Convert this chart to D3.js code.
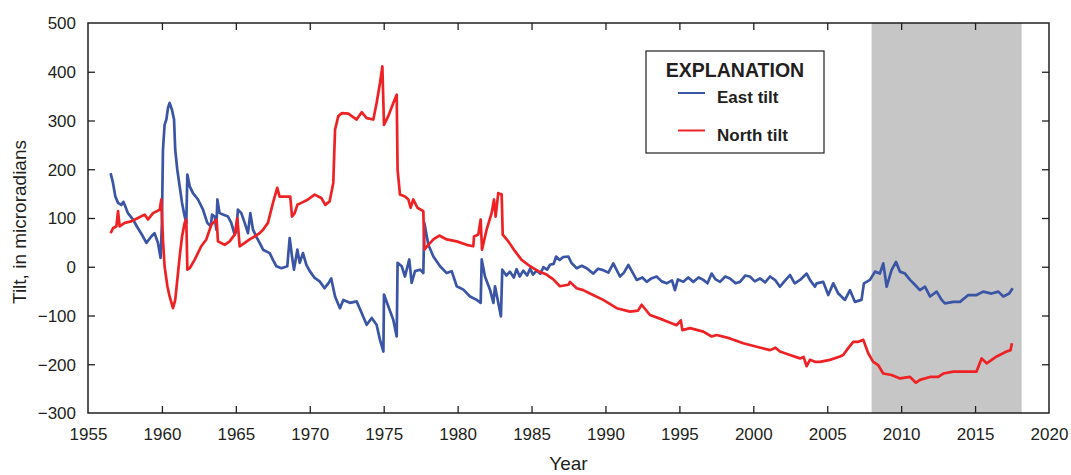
<!DOCTYPE html>
<html>
<head>
<meta charset="utf-8">
<script src="https://cdn.jsdelivr.net/npm/d3@7"></script>
<style>
  html, body { margin: 0; padding: 0; background: #fff; }
  svg { display: block; font-family: "Liberation Sans", Arial, sans-serif; }
</style>
</head>
<body>
<svg id="chart" width="1071" height="475"></svg>
<script>
// Tilt records, microradians, by decimal year
const eastTilt = [
  [1956.53,192],[1956.69,172],[1956.85,144],[1957.03,131],[1957.25,127],[1957.4,133],[1957.48,127],
  [1957.7,110],[1958.04,97],[1958.38,79],[1958.72,62],[1958.95,49],[1959.28,62],[1959.5,69],
  [1959.73,49],[1959.91,18],[1960.0,90],[1960.07,240],[1960.18,291],[1960.3,302],[1960.41,326],
  [1960.52,336],[1960.68,322],[1960.82,302],[1960.9,240],[1961.04,199],[1961.2,165],[1961.36,131],
  [1961.54,103],[1961.65,90],[1961.72,189],[1961.88,165],[1962.1,151],[1962.44,138],[1962.78,117],
  [1963.07,90],[1963.3,83],[1963.39,107],[1963.57,103],[1963.68,76],[1963.75,138],[1963.9,110],
  [1964.13,107],[1964.47,103],[1964.69,90],[1964.92,66],[1965.03,73],[1965.14,117],[1965.37,110],
  [1965.6,90],[1965.82,69],[1965.98,110],[1966.16,76],[1966.38,62],[1966.61,49],[1966.84,35],
  [1967.29,28],[1967.51,14],[1967.74,1],[1968.08,-3],[1968.48,1],[1968.64,59],[1968.8,21],
  [1968.93,-6],[1969.16,35],[1969.32,8],[1969.54,28],[1969.77,4],[1970.0,-9],[1970.33,-23],
  [1970.67,-30],[1971.0,-44],[1971.28,-33],[1971.45,-24],[1971.71,-61],[1972.04,-85],[1972.27,-68],
  [1972.72,-74],[1973.17,-71],[1973.51,-95],[1973.85,-119],[1974.19,-105],[1974.52,-119],
  [1974.75,-150],[1974.98,-174],[1975.02,-57],[1975.31,-81],[1975.65,-109],[1975.88,-143],
  [1975.94,8],[1976.22,1],[1976.44,-20],[1976.73,15],[1976.89,-33],[1977.12,-9],[1977.46,-6],
  [1977.68,-13],[1977.75,90],[1978.02,45],[1978.36,21],[1978.81,1],[1979.26,-13],[1979.6,-9],
  [1979.94,-40],[1980.39,-47],[1980.84,-61],[1981.29,-68],[1981.56,-74],[1981.63,15],[1981.85,-20],
  [1982.19,-47],[1982.42,-74],[1982.53,-40],[1982.75,-74],[1982.93,-102],[1983.02,-6],[1983.3,-18],
  [1983.54,-10],[1983.8,-22],[1983.99,-5],[1984.2,-20],[1984.44,-8],[1984.7,-18],[1984.9,-4],
  [1985.1,-16],[1985.35,-8],[1985.6,-14],[1985.8,-1],[1986.05,-6],[1986.25,4],[1986.5,6],
  [1986.66,21],[1986.9,14],[1987.15,20],[1987.49,21],[1987.7,8],[1988.05,-3],[1988.4,2],
  [1988.73,-3],[1989.18,-14],[1989.5,-4],[1989.85,-7],[1990.2,-12],[1990.53,7],[1990.98,-20],
  [1991.25,-12],[1991.55,4],[1992.11,-27],[1992.5,-22],[1992.79,-31],[1993.1,-24],[1993.46,-20],
  [1993.8,-30],[1994.14,-34],[1994.5,-28],[1994.7,-48],[1994.9,-26],[1995.27,-31],[1995.6,-22],
  [1995.94,-31],[1996.3,-22],[1996.62,-27],[1996.9,-34],[1997.18,-14],[1997.45,-26],[1997.75,-31],
  [1998.1,-20],[1998.42,-24],[1998.8,-34],[1999.1,-31],[1999.45,-18],[1999.77,-20],[2000.1,-30],
  [2000.45,-24],[2000.8,-32],[2001.13,-20],[2001.5,-28],[2001.8,-41],[2002.1,-30],[2002.48,-17],
  [2002.8,-34],[2003.16,-27],[2003.61,-14],[2003.83,-27],[2004.17,-41],[2004.28,-34],[2004.73,-31],
  [2005.07,-58],[2005.41,-34],[2005.75,-55],[2006.2,-68],[2006.54,-48],[2006.87,-72],[2007.32,-68],
  [2007.48,-34],[2007.89,-27],[2008.23,-10],[2008.56,-14],[2008.79,7],[2009.02,-41],[2009.35,-7],
  [2009.65,10],[2009.92,-10],[2010.26,-14],[2010.6,-27],[2010.93,-37],[2011.27,-48],[2011.61,-41],
  [2011.95,-61],[2012.4,-51],[2012.74,-68],[2012.96,-75],[2013.52,-72],[2013.98,-72],[2014.54,-58],
  [2015.1,-58],[2015.55,-51],[2016.12,-55],[2016.57,-51],[2016.91,-61],[2017.31,-55],[2017.54,-44]
];

const northTilt = [
  [1956.53,69],[1956.69,79],[1956.92,83],[1957.03,114],[1957.14,83],[1957.48,90],[1957.93,93],
  [1958.38,100],[1958.83,107],[1959.06,97],[1959.4,110],[1959.85,117],[1959.96,138],[1960.07,56],
  [1960.18,1],[1960.37,-40],[1960.52,-61],[1960.75,-85],[1960.9,-68],[1961.04,-27],[1961.2,21],
  [1961.36,62],[1961.54,90],[1961.65,97],[1961.72,-6],[1961.88,-3],[1962.21,14],[1962.66,42],
  [1963.0,56],[1963.34,86],[1963.57,93],[1963.7,97],[1963.79,52],[1964.24,45],[1964.58,52],
  [1964.92,66],[1965.1,100],[1965.26,42],[1965.6,49],[1965.93,56],[1966.27,62],[1966.61,69],
  [1966.84,76],[1967.17,90],[1967.51,131],[1967.8,162],[1967.96,144],[1968.53,144],[1968.68,144],
  [1968.8,103],[1968.98,110],[1969.16,127],[1969.43,131],[1969.88,138],[1970.33,148],[1970.78,141],
  [1971.05,127],[1971.34,134],[1971.5,158],[1971.59,172],[1971.71,281],[1971.93,309],[1972.16,315],
  [1972.61,314],[1973.17,302],[1973.51,317],[1973.85,305],[1974.3,302],[1974.52,336],[1974.75,377],
  [1974.91,411],[1975.02,291],[1975.31,309],[1975.65,336],[1975.88,353],[1975.94,199],[1976.1,148],
  [1976.44,144],[1976.67,138],[1976.82,121],[1977.0,138],[1977.28,121],[1977.68,114],[1977.75,35],
  [1978.02,45],[1978.36,56],[1978.76,64],[1979.26,56],[1979.94,52],[1980.61,45],[1981.06,42],
  [1981.11,62],[1981.4,66],[1981.56,97],[1981.65,35],[1981.96,76],[1982.3,110],[1982.46,138],
  [1982.57,103],[1982.75,151],[1982.98,148],[1983.05,66],[1983.43,52],[1983.88,32],[1984.33,14],
  [1984.9,1],[1985.46,-9],[1986.02,-16],[1986.47,-26],[1986.92,-40],[1987.49,-37],[1987.6,-31],
  [1988.05,-44],[1988.5,-48],[1988.95,-55],[1989.85,-68],[1990.76,-85],[1991.66,-92],[1992.2,-90],
  [1992.45,-78],[1993.01,-99],[1993.91,-109],[1994.81,-120],[1995.1,-110],[1995.2,-130],[1995.72,-126],
  [1996.62,-133],[1997.18,-143],[1997.52,-140],[1998.42,-147],[1999.32,-157],[2000.23,-164],
  [2001.13,-171],[2001.5,-166],[2001.8,-174],[2002.48,-181],[2003.16,-188],[2003.4,-185],
  [2003.61,-204],[2003.83,-191],[2004.17,-195],[2004.51,-195],[2005.18,-191],[2005.86,-184],
  [2006.08,-181],[2006.42,-167],[2006.76,-154],[2007.1,-154],[2007.44,-150],[2007.78,-178],
  [2008.11,-195],[2008.45,-202],[2008.79,-219],[2009.35,-222],[2009.92,-229],[2010.6,-226],
  [2011.0,-238],[2011.27,-232],[2011.95,-226],[2012.51,-226],[2012.85,-219],[2013.52,-215],
  [2014.43,-215],[2015.1,-215],[2015.44,-188],[2015.78,-198],[2016.46,-184],[2017.13,-174],
  [2017.4,-171],[2017.49,-157]
];

const yearTicks = [1955,1960,1965,1970,1975,1980,1985,1990,1995,2000,2005,2010,2015,2020];
const tiltTicks = [-300,-200,-100,0,100,200,300,400,500];
const shadedSpan = [2008, 2018.15];
const legendItems = [
  { label: "East tilt", key: "east" },
  { label: "North tilt", key: "north" }
];

const colors = { east: "#3a55a5", north: "#ee2225" };
const ink = "#231f20";

const svg = d3.select("#chart");
const plotLeft = 88, plotRight = 1049, plotTop = 23, plotBottom = 413;

const x = d3.scaleLinear().domain([1955, 2020]).range([plotLeft, plotRight]);
const y = d3.scaleLinear().domain([-300, 500]).range([plotBottom, plotTop]);

// Shaded period
svg.append("rect")
  .attr("x", x(shadedSpan[0]))
  .attr("y", plotTop)
  .attr("width", x(shadedSpan[1]) - x(shadedSpan[0]))
  .attr("height", plotBottom - plotTop)
  .attr("fill", "#c6c6c6");

// Series
const line = d3.line().x(d => x(d[0])).y(d => y(d[1]));
[["east", eastTilt], ["north", northTilt]].forEach(([key, data]) => {
  svg.append("path")
    .datum(data)
    .attr("d", line)
    .attr("fill", "none")
    .attr("stroke", colors[key])
    .attr("stroke-width", 2.7)
    .attr("stroke-linejoin", "round");
});

// Axes with inward ticks on all four sides
const tickLen = 7;
const fmt = d => d < 0 ? "\u2212" + Math.abs(d) : String(d);

const bottomAxis = svg.append("g").attr("transform", `translate(0,${plotBottom})`)
  .call(d3.axisBottom(x).tickValues(yearTicks).tickSize(-tickLen).tickPadding(0).tickFormat(d3.format("d")));
const topAxis = svg.append("g").attr("transform", `translate(0,${plotTop})`)
  .call(d3.axisTop(x).tickValues(yearTicks).tickSize(-tickLen).tickFormat(""));
const leftAxis = svg.append("g").attr("transform", `translate(${plotLeft},0)`)
  .call(d3.axisLeft(y).tickValues(tiltTicks).tickSize(-tickLen).tickPadding(0).tickFormat(fmt));
const rightAxis = svg.append("g").attr("transform", `translate(${plotRight},0)`)
  .call(d3.axisRight(y).tickValues(tiltTicks).tickSize(-tickLen).tickFormat(""));

[bottomAxis, topAxis, leftAxis, rightAxis].forEach(g => {
  g.select(".domain").remove();
  g.selectAll(".tick line").attr("stroke", ink).attr("stroke-width", 1.3);
});
// Ticks at the frame corners are covered by the frame itself
bottomAxis.selectAll(".tick line").filter(d => d === 1955 || d === 2020).remove();
topAxis.selectAll(".tick line").filter(d => d === 1955 || d === 2020).remove();
leftAxis.selectAll(".tick line").filter(d => d === -300 || d === 500).remove();
rightAxis.selectAll(".tick line").filter(d => d === -300 || d === 500).remove();

bottomAxis.selectAll(".tick text")
  .attr("y", 0).attr("dy", 0)
  .attr("transform", "translate(0,27)")
  .attr("fill", ink).attr("font-size", 17)
  .attr("font-family", "Liberation Sans, Arial, sans-serif");
leftAxis.selectAll(".tick text")
  .attr("x", -12).attr("dy", "0.35em")
  .attr("fill", ink).attr("font-size", 17)
  .attr("font-family", "Liberation Sans, Arial, sans-serif");

// Frame
svg.append("rect")
  .attr("x", plotLeft).attr("y", plotTop)
  .attr("width", plotRight - plotLeft).attr("height", plotBottom - plotTop)
  .attr("fill", "none").attr("stroke", ink).attr("stroke-width", 1.5);

// Axis titles
svg.append("text")
  .attr("transform", `translate(26,${(plotTop + plotBottom) / 2 + 4}) rotate(-90)`)
  .attr("text-anchor", "middle")
  .attr("font-size", 19).attr("fill", ink)
  .text("Tilt, in microradians");
svg.append("text")
  .attr("x", (plotLeft + plotRight) / 2).attr("y", 470)
  .attr("text-anchor", "middle")
  .attr("font-size", 19).attr("fill", ink)
  .text("Year");

// Legend
const lg = svg.append("g").attr("transform", "translate(646,51)");
lg.append("rect")
  .attr("width", 178).attr("height", 102)
  .attr("fill", "#fff").attr("stroke", ink).attr("stroke-width", 1.2);
lg.append("text")
  .attr("x", 89).attr("y", 26)
  .attr("text-anchor", "middle")
  .attr("font-size", 19.5).attr("font-weight", "bold").attr("fill", ink)
  .text("EXPLANATION");
legendItems.forEach((item, i) => {
  const cy = 42 + i * 37.5;
  lg.append("line")
    .attr("x1", 32).attr("x2", 59)
    .attr("y1", cy).attr("y2", cy)
    .attr("stroke", colors[item.key]).attr("stroke-width", 2);
  lg.append("text")
    .attr("x", 71).attr("y", cy + 10)
    .attr("font-size", 17).attr("font-weight", "bold").attr("fill", ink)
    .text(item.label);
});
</script>
</body>
</html>
